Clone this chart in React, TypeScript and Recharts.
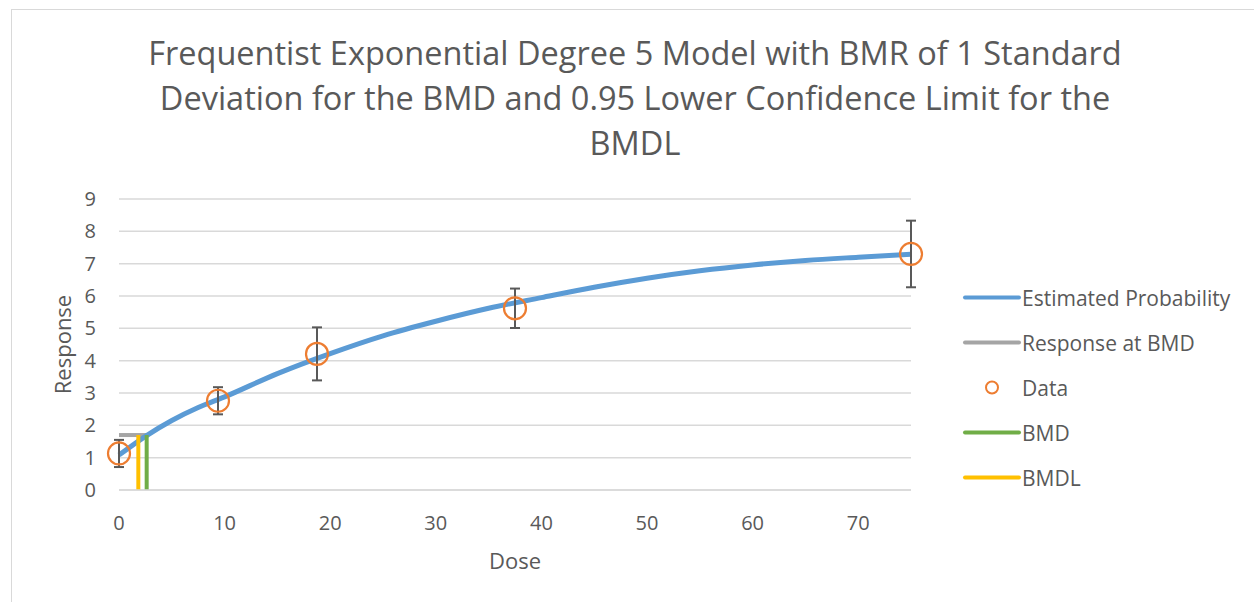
import React from 'react';
import { ComposedChart, Line, Scatter, ErrorBar, XAxis, YAxis, CartesianGrid, Legend } from 'recharts';

// observed data
const doses = [0, 9.375, 18.75, 37.5, 75];
const means = [1.13, 2.76, 4.21, 5.62, 7.3];
const errs = [0.42, 0.42, 0.82, 0.61, 1.03];

// fitted curve
const curveDoses = [0, 2.5, 5, 7.5, 10, 15, 20, 25, 30, 35, 40, 45, 50, 55, 60, 65, 70, 75];
const curveValues = [1.08, 1.66, 2.15, 2.55, 2.88, 3.6, 4.22, 4.77, 5.22, 5.62, 5.95, 6.27, 6.55, 6.78, 6.96, 7.1, 7.2, 7.29];

const bmd = 2.62;
const bmdl = 1.83;
const bmdResponse = 1.7;

const xTicks = [0, 10, 20, 30, 40, 50, 60, 70];
const yTicks = [0, 1, 2, 3, 4, 5, 6, 7, 8, 9];

const curveData = curveDoses.map((d, i) => ({ x: d, y: curveValues[i] }));
const obsData = doses.map((d, i) => ({ x: d, y: means[i], err: errs[i] }));
const bmdRespData = [{ x: 0, y: bmdResponse }, { x: bmd, y: bmdResponse }];
const bmdData = [{ x: bmd, y: 0 }, { x: bmd, y: bmdResponse }];
const bmdlData = [{ x: bmdl, y: 0 }, { x: bmdl, y: bmdResponse }];

const FONT = '"Open Sans", "Liberation Sans", sans-serif';
const TEXT = '#595959';

const legendItems = [
    { name: 'Estimated Probability', color: '#5B9BD5', kind: 'line' },
    { name: 'Response at BMD', color: '#A5A5A5', kind: 'line' },
    { name: 'Data', color: '#ED7D31', kind: 'circle' },
    { name: 'BMD', color: '#70AD47', kind: 'line' },
    { name: 'BMDL', color: '#FFC000', kind: 'line' },
];

const renderLegend = () => (
    <div style={{ fontFamily: FONT, fontSize: 21, color: TEXT }}>
        {legendItems.map((it) => (
            <div key={it.name} style={{ display: 'flex', alignItems: 'center', height: 45, whiteSpace: 'nowrap' }}>
                <svg width={60} height={45} style={{ flex: 'none' }}>
                    {it.kind === 'line' ? (
                        <line x1={3} y1={22.5} x2={57} y2={22.5} stroke={it.color} strokeWidth={4} strokeLinecap="round" />
                    ) : (
                        <circle cx={30} cy={22.5} r={6} fill="none" stroke={it.color} strokeWidth={2} />
                    )}
                </svg>
                <span>{it.name}</span>
            </div>
        ))}
    </div>
);

const DataDot = (props: { cx?: number; cy?: number }) => {
    const { cx, cy } = props;
    if (cx == null || cy == null) return null;
    return <circle cx={cx} cy={cy} r={11} fill="none" stroke="#ED7D31" strokeWidth={2.2} />;
};

export default function App() {
    return (
        <div style={{ position: 'absolute', left: 0, top: 0, width: 1254, height: 602, overflow: 'hidden', background: '#fff' }}>
            <div style={{ position: 'absolute', left: 11, top: 9, width: 1260, height: 620, border: '1px solid #d9d9d9' }} />
            <div
                style={{
                    position: 'absolute', left: 85, top: 30, width: 1100, textAlign: 'center',
                    fontFamily: FONT, fontSize: 32.5, lineHeight: '45px', color: TEXT,
                }}
            >
                Frequentist Exponential Degree 5 Model with BMR of 1 Standard<br />
                Deviation for the BMD and 0.95 Lower Confidence Limit for the<br />
                BMDL
            </div>
            <div style={{ position: 'absolute', left: 0, top: 0 }}>
                <ComposedChart width={1254} height={602} margin={{ top: 199, right: 53, left: 59, bottom: 72 }}>
                    <CartesianGrid vertical={false} stroke="#d9d9d9" strokeWidth={1.5} />
                    <XAxis
                        type="number"
                        dataKey="x"
                        domain={[0, 75]}
                        ticks={xTicks}
                        height={40}
                        tickLine={false}
                        tickSize={0}
                        tickMargin={26}
                        axisLine={{ stroke: '#d9d9d9', strokeWidth: 1.5 }}
                        tick={{ fill: TEXT, fontSize: 20, fontFamily: FONT }}
                        label={({ viewBox }: any) => (
                            <text x={viewBox.x + viewBox.width / 2} y={560} textAnchor="middle" dominantBaseline="central"
                                fill={TEXT} fontSize={22} fontFamily={FONT}>Dose</text>
                        )}
                    />
                    <YAxis
                        type="number"
                        dataKey="y"
                        domain={[0, 9]}
                        ticks={yTicks}
                        width={60}
                        tickLine={false}
                        axisLine={false}
                        tickSize={0}
                        tickMargin={23}
                        tick={{ fill: TEXT, fontSize: 20, fontFamily: FONT }}
                        label={({ viewBox }: any) => {
                            const cy = viewBox.y + viewBox.height / 2;
                            return (
                                <text x={62} y={cy} transform={`rotate(-90 62 ${cy})`} textAnchor="middle" dominantBaseline="central"
                                    fill={TEXT} fontSize={22} fontFamily={FONT}>Response</text>
                            );
                        }}
                    />
                    <Legend
                        layout="vertical"
                        verticalAlign="top"
                        align="right"
                        content={renderLegend}
                        wrapperStyle={{ position: 'absolute', left: 962, top: 275, width: 290 }}
                    />
                    <Line data={bmdRespData} dataKey="y" stroke="#A5A5A5" strokeWidth={4} dot={false} isAnimationActive={false} legendType="none" />
                    <Line data={curveData} dataKey="y" type="monotone" stroke="#5B9BD5" strokeWidth={5} dot={false} isAnimationActive={false} />
                    <Scatter data={obsData} dataKey="y" shape={<DataDot />} isAnimationActive={false}>
                        <ErrorBar dataKey="err" direction="y" width={5} stroke="#595959" strokeWidth={2} isAnimationActive={false} />
                    </Scatter>
                    <Line data={bmdData} dataKey="y" stroke="#70AD47" strokeWidth={4} dot={false} isAnimationActive={false} />
                    <Line data={bmdlData} dataKey="y" stroke="#FFC000" strokeWidth={4} dot={false} isAnimationActive={false} />
                </ComposedChart>
            </div>
        </div>
    );
}
